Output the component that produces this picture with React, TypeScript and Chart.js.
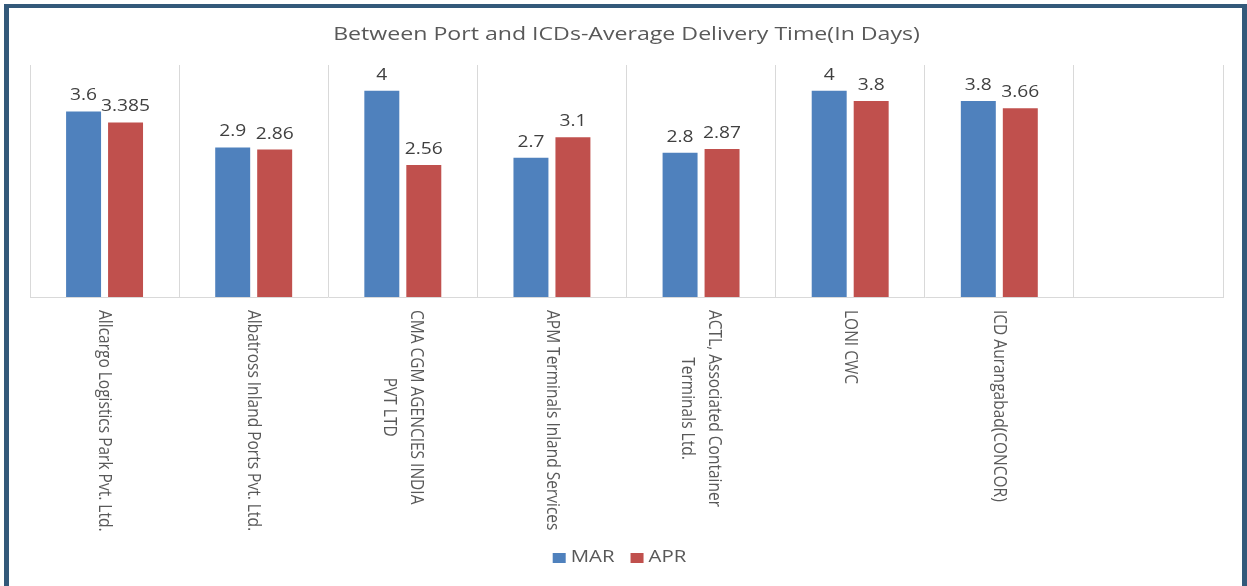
import React, { useEffect, useRef } from 'react';
import { Chart, registerables } from 'chart.js';

Chart.register(...registerables);

const TITLE = 'Between Port and ICDs-Average Delivery Time(In Days)';
const categories: string[][] = [
  ['Allcargo Logistics Park Pvt. Ltd.'],
  ['Albatross Inland Ports Pvt. Ltd.'],
  ['CMA CGM AGENCIES INDIA', 'PVT LTD'],
  ['APM Terminals Inland Services'],
  ['ACTL, Associated Container', 'Terminals Ltd.'],
  ['LONI CWC'],
  ['ICD Aurangabad(CONCOR)'],
  [''],
];
const seriesNames = ['MAR', 'APR'];
const marValues = [3.6, 2.9, 4, 2.7, 2.8, 4, 3.8, null];
const aprValues = [3.385, 2.86, 2.56, 3.1, 2.87, 3.8, 3.66, null];
const seriesColors = ['#4F81BD', '#C0504D'];

const STRETCH = 1.2;
const FONT = '"Open Sans", sans-serif';

const textPlugin = {
  id: 'textPlugin',
  afterDraw(chart: any) {
    const ctx = chart.ctx as CanvasRenderingContext2D;
    const area = chart.chartArea;
    const xScale = chart.scales.x;

    // Title
    ctx.save();
    ctx.fillStyle = '#595959';
    ctx.font = `18.5px ${FONT}`;
    ctx.textAlign = 'center';
    ctx.textBaseline = 'middle';
    ctx.translate((area.left + area.right) / 2, 35);
    ctx.scale(1.25, 1);
    ctx.fillText(TITLE, 0, 0);
    ctx.restore();

    // Value labels
    chart.data.datasets.forEach((ds: any, di: number) => {
      const meta = chart.getDatasetMeta(di);
      meta.data.forEach((el: any, i: number) => {
        const v = ds.data[i];
        if (v == null) return;
        ctx.save();
        ctx.font = `16px ${FONT}`;
        ctx.fillStyle = '#404040';
        ctx.textAlign = 'center';
        ctx.textBaseline = 'alphabetic';
        ctx.translate(el.x, el.y - 11);
        ctx.scale(STRETCH, 1);
        ctx.fillText(String(v), 0, 0);
        ctx.restore();
      });
    });

    // Category labels (rotated clockwise)
    categories.forEach((lines, i) => {
      const x = xScale.getPixelForValue(i);
      ctx.save();
      ctx.font = `15.5px ${FONT}`;
      ctx.fillStyle = '#595959';
      ctx.translate(x, area.bottom + 13);
      ctx.scale(STRETCH, 1);
      ctx.rotate(Math.PI / 2);
      const w = Math.max(...lines.map((l) => ctx.measureText(l).width));
      ctx.textAlign = 'center';
      ctx.textBaseline = 'middle';
      const lh = 22.5;
      lines.forEach((l, j) => ctx.fillText(l, w / 2, (j - (lines.length - 1) / 2) * lh));
      ctx.restore();
    });

    // Legend
    ctx.save();
    ctx.font = `17px ${FONT}`;
    const box = 13;
    const gap = 5;
    const sep = 16;
    const items = seriesNames.map((n, i) => ({ n, c: seriesColors[i], w: ctx.measureText(n).width * STRETCH }));
    const total = items.reduce((s, it) => s + box + gap + it.w, 0) + sep * (items.length - 1);
    let lx = chart.width / 2 - 4 - total / 2;
    const ly = 557;
    items.forEach((it) => {
      ctx.fillStyle = it.c;
      ctx.fillRect(lx, ly - 4, box, 10);
      lx += box + gap;
      ctx.save();
      ctx.fillStyle = '#595959';
      ctx.textAlign = 'left';
      ctx.textBaseline = 'middle';
      ctx.translate(lx, ly);
      ctx.scale(STRETCH, 1);
      ctx.fillText(it.n, 0, 0);
      ctx.restore();
      lx += it.w + sep;
    });
    ctx.restore();
  },
};

export default function App() {
  const canvasRef = useRef<HTMLCanvasElement | null>(null);

  useEffect(() => {
    if (!canvasRef.current) return;
    const chart = new Chart(canvasRef.current, {
      type: 'bar',
      data: {
        labels: categories.map((c) => c.join(' ')),
        datasets: [
          {
            label: seriesNames[0],
            data: marValues,
            backgroundColor: seriesColors[0],
            categoryPercentage: 0.563,
            barPercentage: 0.833,
          },
          {
            label: seriesNames[1],
            data: aprValues,
            backgroundColor: seriesColors[1],
            categoryPercentage: 0.563,
            barPercentage: 0.833,
          },
        ],
      },
      options: {
        responsive: false,
        animation: false,
        layout: { padding: { left: 30, right: 24, top: 65, bottom: 289 } },
        plugins: {
          legend: { display: false },
          title: { display: false },
          tooltip: { enabled: false },
        },
        scales: {
          x: {
            offset: true,
            grid: { display: true, offset: true, color: '#D9D9D9', lineWidth: 1, drawTicks: false },
            border: { display: true, color: '#D9D9D9' },
            ticks: { display: false },
          },
          y: {
            display: false,
            min: 0,
            max: 4.5,
          },
        },
      },
      plugins: [textPlugin],
    });
    return () => chart.destroy();
  }, []);

  return (
    <div style={{ position: 'fixed', left: 0, top: 0, width: 1247, height: 586, background: '#ffffff', overflow: 'hidden' }}>
      <canvas ref={canvasRef} width={1247} height={586} style={{ position: 'absolute', left: 0, top: 0, width: 1247, height: 586 }} />
      <div
        style={{
          position: 'absolute',
          left: 4,
          top: 4,
          width: 1243,
          height: 640,
          boxSizing: 'border-box',
          borderLeft: '5px solid #33597A',
          borderTop: '4px solid #33597A',
          borderRight: '5px solid #33597A',
          pointerEvents: 'none',
        }}
      />
    </div>
  );
}
